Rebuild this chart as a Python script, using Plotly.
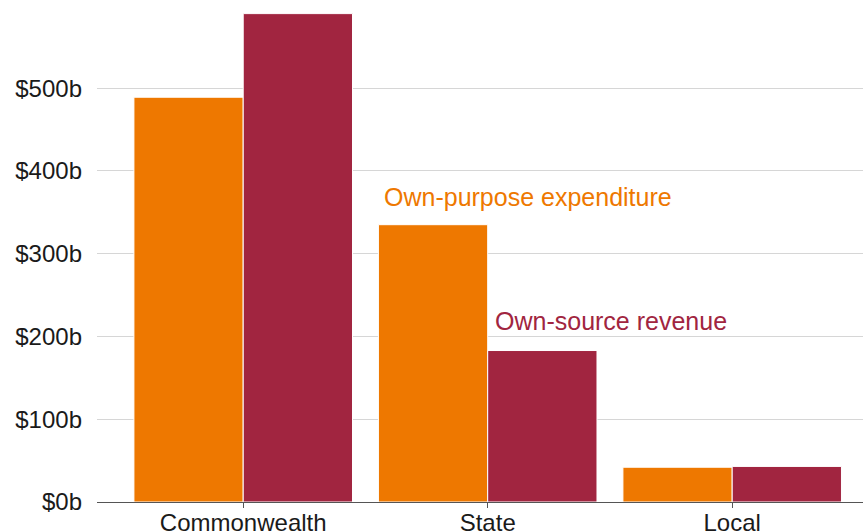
import plotly.graph_objects as go

# Level of government and the two measures compared for each
categories = ["Commonwealth", "State", "Local"]
expenditure = [489, 335, 42]   # own-purpose expenditure, $b
revenue = [590, 183, 43]       # own-source revenue, $b
series_names = ["Own-purpose expenditure", "Own-source revenue"]

y_ticks = [0, 100, 200, 300, 400, 500]
y_tick_text = ["$0b", "$100b", "$200b", "$300b", "$400b", "$500b"]

ORANGE = "#EE7800"
CRIMSON = "#A12540"
FONT = "Liberation Sans, Arial, sans-serif"
BARGAP = 0.106

fig = go.Figure()
fig.add_trace(go.Bar(
    x=categories, y=expenditure, name=series_names[0],
    marker=dict(color=ORANGE, line=dict(color="white", width=1)),
))
fig.add_trace(go.Bar(
    x=categories, y=revenue, name=series_names[1],
    marker=dict(color=CRIMSON, line=dict(color="white", width=1)),
))

# Direct labels sitting above the State bars, left-aligned with each bar
half = (1 - BARGAP) / 2
state_idx = categories.index("State")
fig.add_annotation(
    x=state_idx - half, y=expenditure[state_idx], text=series_names[0],
    xanchor="left", yanchor="middle", xshift=4, yshift=28,
    showarrow=False, font=dict(color=ORANGE, size=25, family=FONT),
)
fig.add_annotation(
    x=state_idx, y=revenue[state_idx], text=series_names[1],
    xanchor="left", yanchor="middle", xshift=5, yshift=30,
    showarrow=False, font=dict(color=CRIMSON, size=25, family=FONT),
)

fig.update_layout(
    width=863, height=532,
    margin=dict(l=97, r=0, t=7, b=30),
    paper_bgcolor="white", plot_bgcolor="white",
    barmode="group", bargap=BARGAP, bargroupgap=0,
    showlegend=False,
    font=dict(family=FONT, size=24, color="#1a1a1a"),
)
fig.update_xaxes(
    type="category", range=[-0.598, 2.535], automargin=False,
    showgrid=False, showline=True, linecolor="#555555", linewidth=1,
    ticks="outside", ticklen=5, tickcolor="#555555",
    ticklabelstandoff=-6,
    tickfont=dict(size=24, family=FONT, color="#1a1a1a"),
)
fig.update_yaxes(
    range=[0, 598], tickvals=y_ticks, ticktext=y_tick_text, automargin=False,
    showgrid=True, gridcolor="#d6d6d6", gridwidth=1,
    zeroline=False, showline=False, ticks="",
    ticklabelstandoff=14,
    tickfont=dict(size=24, family=FONT, color="#1a1a1a"),
)

fig.write_html("out.html")
